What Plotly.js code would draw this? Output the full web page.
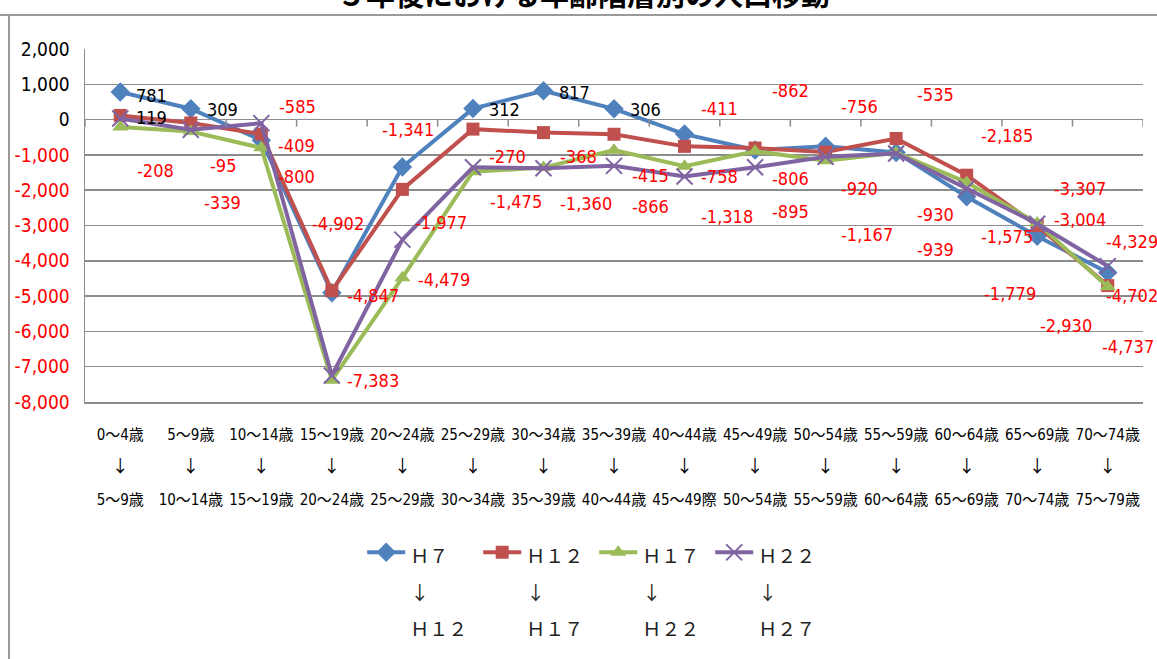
<!DOCTYPE html>
<html><head><meta charset="utf-8">
<script src="https://cdn.plot.ly/plotly-3.0.1.min.js"></script>
<style>
html,body{margin:0;padding:0;background:#fff;}
#wrap{position:relative;width:1157px;height:659px;overflow:hidden;}
#chart{position:absolute;left:0;top:0;width:1157px;height:659px;}
.frameTop{position:absolute;left:0;top:14px;width:1157px;height:2px;background:#9a9a9a;pointer-events:none;}
.frameLeft{position:absolute;left:8px;top:14px;width:2px;height:645px;background:#9a9a9a;pointer-events:none;}
</style></head>
<body><div id="wrap"><div id="chart"></div><div class="frameTop"></div><div class="frameLeft"></div></div>
<script>
// ---- data ----
const titleText = '５年後における年齢階層別の人口移動';
const fromAges = ['0～4歳','5～9歳','10～14歳','15～19歳','20～24歳','25～29歳','30～34歳','35～39歳','40～44歳','45～49歳','50～54歳','55～59歳','60～64歳','65～69歳','70～74歳'];
const toAges   = ['5～9歳','10～14歳','15～19歳','20～24歳','25～29歳','30～34歳','35～39歳','40～44歳','45～49際','50～54歳','55～59歳','60～64歳','65～69歳','70～74歳','75～79歳'];
const periodFrom = ['Ｈ７','Ｈ１２','Ｈ１７','Ｈ２２'];
const periodTo   = ['Ｈ１２','Ｈ１７','Ｈ２２','Ｈ２７'];
const h7_h12  = [781, 309, -585, -4902, -1341, 312, 817, 306, -411, -862, -756, -930, -2185, -3307, -4329];
const h12_h17 = [119, -95, -409, -4847, -1977, -270, -368, -415, -758, -806, -920, -535, -1575, -3004, -4702];
const h17_h22 = [-208, -339, -800, -7383, -4479, -1475, -1360, -866, -1318, -895, -1167, -939, -1779, -2930, -4737];
const h22_h27 = [30, -290, -100, -7250, -3400, -1350, -1380, -1310, -1610, -1350, -1050, -960, -1950, -2950, -4150];
const yTicks = [2000, 1000, 0, -1000, -2000, -3000, -4000, -5000, -6000, -7000, -8000];

// ---- styling (label offsets in pixels from their point: [dx, dy-down]) ----
const labelOffsets = [
  [[31,3],[32,1],[36,-34],[6,-69],[6,-37],[32,1],[31,2],[31,1],[35,-26],[35,-60],[34,-40],[39,62],[40,-61],[43,-48],[24,-31]],
  [[31,2],[32,43],[35,11],[41,5],[39,33],[35,27],[35,24],[36,41],[35,30],[35,30],[34,36],[39,-44],[40,61],[43,-6],[24,10]],
  [[35,44],[32,71],[35,29],[41,0],[42,2],[43,30],[43,36],[36,56],[42,50],[35,60],[41,74],[39,97],[43,111],[29,102],[20,60]]
];
const colors = ['#4F81BD','#C0504D','#9BBB59','#8064A2'];
const symbols = ['diamond','square','triangle-up','x-thin-open'];
const sizes = [15, 13, 14, 16];
const NARROW = '"Liberation Sans Narrow", "DejaVu Sans Condensed", "Noto Sans CJK JP", sans-serif';
const CJK = '"Noto Sans CJK JP", sans-serif';

const allSeries = [h7_h12, h12_h17, h17_h22, h22_h27];
const idx = fromAges.map((_, i) => i);
const fmt = v => v.toLocaleString('en-US');

const traces = allSeries.map((ys, s) => ({
  type: 'scatter', mode: 'lines+markers', x: idx, y: ys,
  name: '<span style="font-size:19px">' + periodFrom[s] + '</span><br><span style="font-size:19px">↓</span><br><span style="font-size:19px">' + periodTo[s] + '</span>',
  line: {color: colors[s], width: 4},
  marker: {symbol: symbols[s], size: sizes[s], color: colors[s],
           line: {width: s === 3 ? 2 : 0, color: colors[s]}},
  hoverinfo: 'x+y'
}));

const annotations = [];
[h7_h12, h12_h17, h17_h22].forEach((ys, s) => {
  ys.forEach((v, i) => {
    annotations.push({
      x: i, y: v, xref: 'x', yref: 'y', text: fmt(v), showarrow: false,
      xshift: labelOffsets[s][i][0], yshift: -labelOffsets[s][i][1],
      xanchor: 'center', yanchor: 'middle',
      font: {family: NARROW, size: 18, color: v < 0 ? '#ff0000' : '#000000'}
    });
  });
});
annotations.push({
  text: titleText, xref: 'paper', yref: 'paper', x: 0.4716, y: 1.16,
  xanchor: 'center', yanchor: 'middle', showarrow: false,
  font: {family: CJK, size: 29, color: '#000', weight: 'bold'}
});

const shapes = [];
for (let k = 0; k <= fromAges.length; k++) {
  shapes.push({type: 'line', xref: 'x', yref: 'y', ysizemode: 'pixel', yanchor: 0,
    x0: k - 0.5, x1: k - 0.5, y0: 0, y1: -7, line: {color: '#8c8c8c', width: 1.5}});
}

const tickText = fromAges.map((f, i) =>
  '<span style="font-size:15px">' + f + '</span><br><span style="font-size:17px;font-family:Noto Sans CJK JP">↓</span><br><span style="font-size:15px">' + toAges[i] + '</span>');

const layout = {
  width: 1157, height: 659,
  margin: {l: 85, r: 14, t: 49, b: 257, pad: 0, autoexpand: false},
  paper_bgcolor: 'rgba(0,0,0,0)', plot_bgcolor: '#fff',
  showlegend: true,
  xaxis: {
    range: [-0.5, fromAges.length - 0.5], tickvals: idx, ticktext: tickText,
    tickfont: {family: NARROW, size: 25, color: '#000'}, tickangle: 0, automargin: false,
    showgrid: false, zeroline: false, showline: true, linecolor: '#8c8c8c', linewidth: 1.5,
    ticks: '', ticklabelstandoff: 6, fixedrange: true
  },
  yaxis: {
    range: [-8000, 2000], tickvals: yTicks, automargin: false,
    ticktext: yTicks.map(v => v < 0 ? '<span style="color:#ff0000">' + fmt(v) + '</span>' : fmt(v)),
    tickfont: {family: NARROW, size: 19, color: '#000'},
    showgrid: true, gridcolor: '#8c8c8c', gridwidth: 1.5,
    zeroline: true, zerolinecolor: '#8c8c8c', zerolinewidth: 1.5,
    showline: true, linecolor: '#8c8c8c', linewidth: 1.5,
    ticks: '', ticklabelstandoff: 10, fixedrange: true
  },
  legend: {
    orientation: 'h', x: 0.262, xanchor: 'left', y: -0.356, yanchor: 'top',
    font: {family: CJK, size: 28, color: '#222'},
    valign: 'top', itemwidth: 38, entrywidth: 63, entrywidthmode: 'pixels',
    bgcolor: 'rgba(0,0,0,0)', tracegroupgap: 0, itemclick: false
  },
  annotations: annotations,
  shapes: shapes
};

Plotly.newPlot('chart', traces, layout, {displayModeBar: false, staticPlot: true});
</script>
</body></html>
